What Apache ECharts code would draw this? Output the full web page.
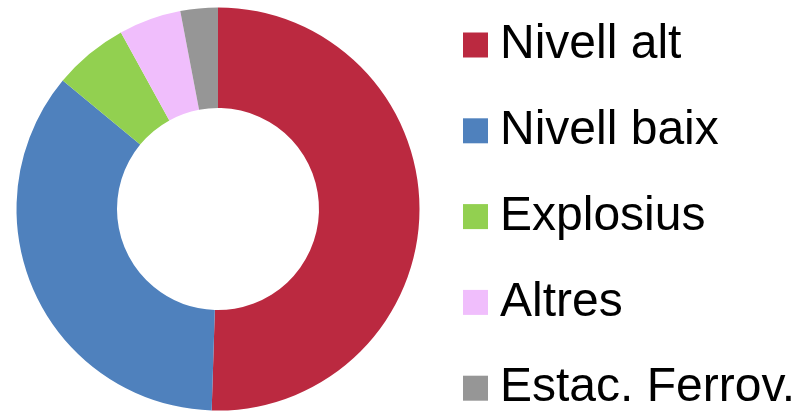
<!DOCTYPE html>
<html>
<head>
<meta charset="utf-8">
<script src="https://cdn.jsdelivr.net/npm/echarts@6/dist/echarts.min.js"></script>
<style>html,body{margin:0;padding:0;background:#fff}#c{width:809px;height:411px}</style>
</head>
<body>
<div id="c"></div>
<script>
const categories = ["Nivell alt", "Nivell baix", "Explosius", "Altres", "Estac. Ferrov."];
const values = [50.5, 35.5, 6.0, 5.0, 3.0];
const colors = ["#BB2940", "#4F81BD", "#92D050", "#F0BEFC", "#969696"];

const chart = echarts.init(document.getElementById('c'), null, {renderer: 'canvas'});
chart.setOption({
  animation: false,
  color: colors,
  legend: {
    orient: 'vertical',
    left: 463,
    top: 20,
    height: 420,
    padding: 0,
    icon: 'rect',
    itemWidth: 25,
    itemHeight: 25,
    itemGap: 35.8,
    selectedMode: false,
    data: categories,
    textStyle: {
      fontFamily: 'Liberation Sans, Arial, sans-serif',
      fontSize: 48,
      lineHeight: 50,
      color: '#000',
      padding: [0, 0, 0, 7]
    }
  },
  series: [{
    type: 'pie',
    center: [218, 209],
    radius: [101, 201.5],
    startAngle: 90,
    clockwise: true,
    label: {show: false},
    labelLine: {show: false},
    emphasis: {disabled: true},
    itemStyle: {borderWidth: 0},
    data: categories.map((n, i) => ({name: n, value: values[i]}))
  }]
});
</script>
</body>
</html>
